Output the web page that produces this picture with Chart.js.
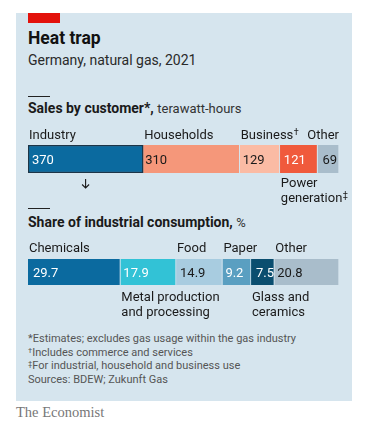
<!DOCTYPE html>
<html>
<head>
<meta charset="utf-8">
<script src="https://cdn.jsdelivr.net/npm/chart.js@4"></script>
<style>
  html, body { margin:0; padding:0; background:#fff; }
  body { width:365px; height:439px; position:relative; overflow:hidden; font-family: Roboto, "Noto Sans", sans-serif; color:#1a1a1a; }
  #panel { position:absolute; left:16px; top:13px; width:336px; height:388px; background:#d6e5ee; }
  #tag { position:absolute; left:28px; top:13px; width:32px; height:10px; background:#e3120b; }
  .t { position:absolute; left:28px; white-space:nowrap; }
  #title { top:30px; font-size:17.5px; line-height:17px; font-weight:700; color:#121212; }
  #sub { top:53px; font-size:14px; line-height:14px; color:#2a2a2a; }
  .rule { position:absolute; left:28px; width:22px; height:1.4px; background:#222; }
  .h { font-size:14px; line-height:14px; font-weight:700; color:#1a1a1a; }
  .h span { font-weight:400; font-size:13px; color:#333; }
  #h1 { top:101px; }
  #h2 { top:215px; }
  #foot { top:332px; font-size:11px; line-height:13.5px; color:#555; }
  #foot sup { font-size:7.5px; vertical-align: 3px; line-height:0; }
  #brand { left:16px; top:405px; font-family:"Liberation Serif", "DejaVu Serif", serif; font-size:14.5px; line-height:14px; color:#777; }
  canvas { position:absolute; left:0; }
</style>
</head>
<body>
<div id="panel"></div>
<div id="tag"></div>
<div class="t" id="title">Heat trap</div>
<div class="t" id="sub">Germany, natural gas, 2021</div>
<div class="rule" style="top:96px"></div>
<div class="t h" id="h1">Sales by customer*, <span>terawatt-hours</span></div>
<div class="rule" style="top:208px"></div>
<div class="t h" id="h2">Share of industrial consumption, <span>%</span></div>
<canvas id="c1" width="365" height="90" style="top:122px"></canvas>
<canvas id="c2" width="365" height="84" style="top:236px"></canvas>
<div class="t" id="foot">*Estimates; excludes gas usage within the gas industry<br><sup>†</sup>Includes commerce and services<br><sup>‡</sup>For industrial, household and business use<br>Sources: BDEW; Zukunft Gas</div>
<div class="t" id="brand">The Economist</div>

<script>
// ---- data ----
const salesCategories = ['Industry', 'Households', 'Business†', 'Power generation‡', 'Other'];
const salesValues = [370, 310, 129, 121, 69];
const shareCategories = ['Chemicals', 'Metal production and processing', 'Food', 'Paper', 'Glass and ceramics', 'Other'];
const shareValues = [29.7, 17.9, 14.9, 9.2, 7.5, 20.8];

// ---- styles ----
const salesColors = ['#0b6a9f', '#f5977a', '#fbbba4', '#f05a3c', '#a9bdcb'];
const salesText = ['#ffffff', '#1a1a1a', '#1a1a1a', '#ffffff', '#1a1a1a'];
const salesLabelLayout = [
  {pos:'above', lines:['Industry']},
  {pos:'above', lines:['Households']},
  {pos:'above', lines:['Business†']},
  {pos:'below', lines:['Power', 'generation‡']},
  {pos:'above', lines:['Other'], align:'right'}
];
const shareColors = ['#0b6a9f', '#32c2d6', '#a8cce0', '#5a9fc1', '#0b4e6f', '#a9bdcb'];
const shareText = ['#ffffff', '#ffffff', '#1a1a1a', '#ffffff', '#ffffff', '#1a1a1a'];
const shareLabelLayout = [
  {pos:'above', lines:['Chemicals']},
  {pos:'below', lines:['Metal production', 'and processing']},
  {pos:'above', lines:['Food']},
  {pos:'above', lines:['Paper']},
  {pos:'below', lines:['Glass and', 'ceramics']},
  {pos:'above', lines:['Other']}
];
const FONT = 'Roboto, "Noto Sans", sans-serif';
const BG = '#d6e5ee';

function drawMarked(ctx, text, x, y, align) {
  // draws text with trailing †/‡ as a superscript
  let main = text, mark = '';
  const last = text.slice(-1);
  if (last === '†' || last === '‡') { main = text.slice(0, -1); mark = last; }
  ctx.font = '13px ' + FONT;
  const w = ctx.measureText(main).width;
  ctx.font = '9px ' + FONT;
  const mw = mark ? ctx.measureText(mark).width : 0;
  let sx = align === 'right' ? x - w - mw : x;
  ctx.textAlign = 'left';
  ctx.font = '13px ' + FONT;
  ctx.fillText(main, sx, y);
  if (mark) { ctx.font = '9px ' + FONT; ctx.fillText(mark, sx + w + 0.5, y - 4); }
}

const labelPlugin = {
  id: 'segLabels',
  afterDatasetsDraw(chart, args, opts) {
    const ctx = chart.ctx;
    ctx.save();
    chart.data.datasets.forEach((ds, i) => {
      const bar = chart.getDatasetMeta(i).data[0];
      const left = Math.min(bar.base, bar.x), right = Math.max(bar.base, bar.x);
      const top = bar.y - bar.height / 2, bottom = bar.y + bar.height / 2;
      // value inside
      ctx.fillStyle = opts.textColors[i];
      ctx.font = '13px ' + FONT;
      ctx.textAlign = 'left';
      ctx.textBaseline = 'alphabetic';
      ctx.fillText(String(ds.data[0]), left + opts.valuePad[i], bar.y + 4.5);
      // category label
      const lay = opts.layout[i];
      ctx.fillStyle = '#1a1a1a';
      const x = lay.align === 'right' ? right : left + 1;
      if (lay.pos === 'above') {
        drawMarked(ctx, lay.lines[0], x, top - opts.aboveGap, lay.align);
      } else {
        lay.lines.forEach((ln, k) => drawMarked(ctx, ln, x, bottom + opts.belowGap + k * 14.5, lay.align));
      }
    });
    if (opts.arrowIndex !== undefined) {
      const bar = chart.getDatasetMeta(opts.arrowIndex).data[0];
      const cx = (bar.base + bar.x) / 2;
      const y0 = bar.y + bar.height / 2 + 6;
      ctx.strokeStyle = '#1a1a1a';
      ctx.lineWidth = 1.1;
      ctx.beginPath();
      ctx.moveTo(cx, y0); ctx.lineTo(cx, y0 + 9);
      ctx.moveTo(cx - 3.5, y0 + 5.5); ctx.lineTo(cx, y0 + 9); ctx.lineTo(cx + 3.5, y0 + 5.5);
      ctx.stroke();
    }
    ctx.restore();
  }
};

function makeChart(id, cats, vals, colors, textColors, layout, pad, extra) {
  const total = vals.reduce((a, b) => a + b, 0);
  const datasets = vals.map((v, i) => ({
    label: cats[i],
    data: [v],
    backgroundColor: colors[i],
    borderColor: (extra.outlined === i) ? '#1d3547' : BG,
    borderWidth: (extra.outlined === i) ? 1.5 : {left: 0, top: 0, bottom: 0, right: 1},
    borderSkipped: false,
    categoryPercentage: 1,
    barPercentage: 1
  }));
  return new Chart(document.getElementById(id), {
    type: 'bar',
    data: { labels: [''], datasets },
    options: {
      indexAxis: 'y',
      responsive: false,
      devicePixelRatio: 1,
      animation: false,
      events: [],
      layout: { padding: pad },
      scales: {
        x: { stacked: true, display: false, min: 0, max: total },
        y: { stacked: true, display: false }
      },
      plugins: {
        legend: { display: false },
        tooltip: { enabled: false },
        segLabels: Object.assign({ textColors, layout }, extra.label)
      }
    },
    plugins: [labelPlugin]
  });
}

makeChart('c1', salesCategories, salesValues, salesColors, salesText, salesLabelLayout,
  { left: 28, right: 26, top: 23, bottom: 39 },
  { outlined: 0, label: { aboveGap: 6, belowGap: 14, arrowIndex: 0, valuePad: [4, 2, 3, 4, 5] } });

makeChart('c2', shareCategories, shareValues, shareColors, shareText, shareLabelLayout,
  { left: 28, right: 26, top: 23, bottom: 35 },
  { label: { aboveGap: 7, belowGap: 16, valuePad: [5, 3, 4, 3, 5, 3] } });
</script>
</body>
</html>
